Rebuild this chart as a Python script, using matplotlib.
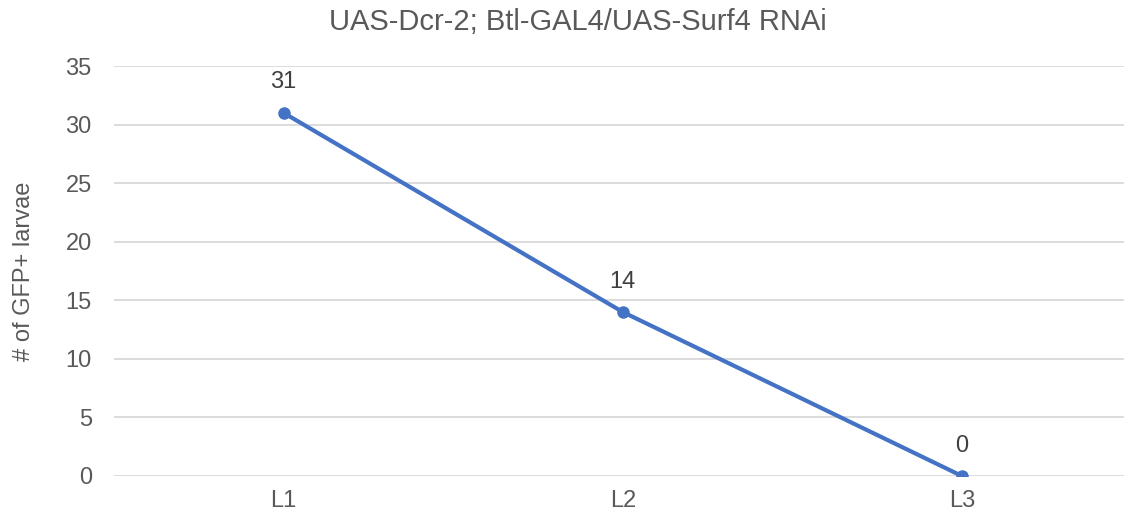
import matplotlib
matplotlib.use('Agg')
from matplotlib import pyplot as plt

# stage counts of GFP+ larvae
stages = ['L1', 'L2', 'L3']
counts = [31, 14, 0]

plt.rcParams['font.family'] = ['Liberation Sans', 'DejaVu Sans']
grey = '#595959'
blue = '#4472C4'

fig = plt.figure(figsize=(11.24, 5.21), dpi=100)
ax = fig.add_axes([114 / 1124, 1 - 476 / 521, 1 - 114 / 1124, (476 - 66) / 521])

x = list(range(len(stages)))
ax.plot(x, counts, color=blue, linewidth=3, marker='o', markersize=8, zorder=3,
        solid_capstyle='round')
for xi, c in zip(x, counts):
    ax.annotate(str(c), (xi, c), xytext=(0, 14), textcoords='offset points',
                ha='center', va='bottom', fontsize=17, color='#404040')

ax.set_ylim(0, 35)
ax.set_yticks(range(0, 36, 5))
ax.set_xlim(-0.5, (1124 - 284) / 339)
ax.set_xticks(x)
ax.set_xticklabels(stages)
ax.grid(axis='y', color='#D9D9D9', linewidth=1.3)
ax.set_axisbelow(True)
for s in ax.spines.values():
    s.set_visible(False)
ax.tick_params(length=0, labelsize=17, labelcolor=grey, pad=10)
ax.tick_params(axis='y', pad=16)
ax.set_ylabel('# of GFP+ larvae', fontsize=17, color=grey, labelpad=22)

fig.text(578 / 1124, 1 - 22 / 521, 'UAS-Dcr-2; Btl-GAL4/UAS-Surf4 RNAi',
         ha='center', va='center', fontsize=21, color=grey)

fig.savefig('out.png', dpi=100)
